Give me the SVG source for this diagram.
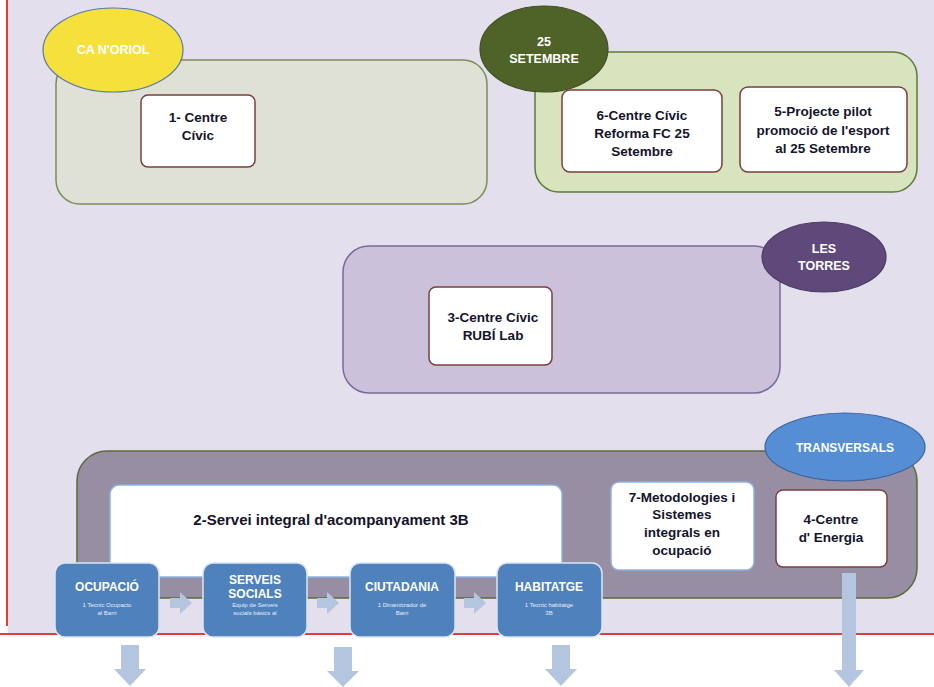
<svg xmlns="http://www.w3.org/2000/svg" width="934" height="687" viewBox="0 0 934 687">
<style>
text{font-family:"Liberation Sans",Arial,sans-serif;font-weight:bold;text-anchor:middle}
.nt{fill:#14142a;font-size:13.5px}
.lt{fill:#fff;font-size:12.5px}
.wn{fill:#fff;stroke:#7b3f3f;stroke-width:1.5}
.wb{fill:#fff;stroke:#8db3e2;stroke-width:1.5}
.bb{fill:#4f81bd;stroke:#dbe5f1;stroke-width:1.5}
.bt{fill:#fff;font-size:12px}
.st{fill:#e8eef8;font-size:6px;font-weight:normal}
.ar{fill:#b3c5df}
</style>
<rect x="0" y="0" width="934" height="687" fill="#fff"/>
<rect x="8" y="0" width="926" height="634" fill="#e4dfec"/>
<line x1="7" y1="0" x2="7" y2="626" stroke="#d9403f" stroke-width="2"/>
<line x1="0" y1="634" x2="934" y2="634" stroke="#d9403f" stroke-width="2"/>

<g id="ca-noriol">
<rect x="56" y="60" width="431" height="144" rx="24" fill="#dfe1d6" stroke="#7a8c5a" stroke-width="1.5"/>
<ellipse cx="113" cy="50" rx="70" ry="42" fill="#f6e03b" stroke="#5a7aa5" stroke-width="1.2"/>
<text class="lt" x="113" y="54">CA N'ORIOL</text>
</g>
<g id="n1">
<rect class="wn" x="141" y="95" width="114" height="72" rx="7"/>
<text class="nt" x="198" y="122">1- Centre</text>
<text class="nt" x="198" y="140">Cívic</text>
</g>

<g id="setembre">
<rect x="535" y="52" width="382" height="140" rx="24" fill="#d7e4bd" stroke="#5c7a3a" stroke-width="1.5"/>
<ellipse cx="544" cy="49" rx="64" ry="43" fill="#4f6228" stroke="#3f4f20" stroke-width="1.2"/>
<text class="lt" x="544" y="46">25</text>
<text class="lt" x="544" y="63">SETEMBRE</text>
</g>
<g id="n6">
<rect class="wn" x="562" y="90" width="160" height="82" rx="8"/>
<text class="nt" x="642" y="120">6-Centre Cívic</text>
<text class="nt" x="642" y="138">Reforma FC 25</text>
<text class="nt" x="642" y="156">Setembre</text>
</g>
<g id="n5">
<rect class="wn" x="740" y="87" width="167" height="85" rx="8"/>
<text class="nt" x="823" y="116">5-Projecte pilot</text>
<text class="nt" x="823" y="135">promoció de l'esport</text>
<text class="nt" x="823" y="153">al 25 Setembre</text>
</g>

<g id="les-torres">
<rect x="343" y="246" width="437" height="147" rx="26" fill="#ccc1da" stroke="#7a6a9a" stroke-width="1.5"/>
<ellipse cx="824" cy="257" rx="62" ry="35" fill="#5f497a" stroke="#4a3a62" stroke-width="1.2"/>
<text class="lt" x="824" y="253">LES</text>
<text class="lt" x="824" y="270">TORRES</text>
</g>
<g id="n3">
<rect class="wn" x="429" y="287" width="123" height="78" rx="7"/>
<text class="nt" x="493" y="322">3-Centre Cívic</text>
<text class="nt" x="493" y="340">RUBÍ Lab</text>
</g>

<g id="transversals">
<rect x="77" y="451" width="840" height="147" rx="30" fill="#988ea4" stroke="#5a6a3a" stroke-width="1.5"/>
<ellipse cx="845" cy="447" rx="80" ry="34" fill="#558ed5" stroke="#3b64a0" stroke-width="1.2"/>
<text class="lt" x="845" y="452" style="font-size:12px">TRANSVERSALS</text>
</g>
<g id="n2">
<rect class="wb" x="110" y="485" width="452" height="92" rx="9"/>
<text class="nt" x="331" y="525" style="font-size:15px">2-Servei integral d'acompanyament 3B</text>
</g>
<g id="n7">
<rect class="wb" x="611" y="482" width="143" height="88" rx="8"/>
<text class="nt" x="682" y="502">7-Metodologies i</text>
<text class="nt" x="682" y="519">Sistemes</text>
<text class="nt" x="682" y="537">integrals en</text>
<text class="nt" x="682" y="555">ocupació</text>
</g>
<g id="n4">
<rect class="wn" x="776" y="490" width="111" height="77" rx="7"/>
<text class="nt" x="831" y="524">4-Centre</text>
<text class="nt" x="831" y="542">d' Energia</text>
</g>

<g id="connectors">
<path class="ar" d="M170,598 h10 v-6 l12,11 l-12,11 v-6 h-10 z"/>
<path class="ar" d="M317,598 h10 v-6 l12,11 l-12,11 v-6 h-10 z"/>
<path class="ar" d="M464,598 h10 v-6 l12,11 l-12,11 v-6 h-10 z"/>
<path class="ar" d="M121,645 h18 v24 h7 l-16,17 l-16,-17 h7 z"/>
<path class="ar" d="M334,647 h18 v24 h7 l-16,16 l-16,-16 h7 z"/>
<path class="ar" d="M552,645 h18 v24 h7 l-16,17 l-16,-17 h7 z"/>
<path class="ar" d="M842,573 h14 v97 h8 l-15,17 l-15,-17 h8 z"/>
</g>

<g id="ocupacio">
<rect class="bb" x="55" y="563" width="104" height="74" rx="10"/>
<text class="bt" x="107" y="591">OCUPACIÓ</text>
<text class="st" x="107" y="607">1 Tecnic Ocupacio</text>
<text class="st" x="107" y="615">al Barri</text>
</g>
<g id="serveis">
<rect class="bb" x="203" y="563" width="104" height="74" rx="10"/>
<text class="bt" x="255" y="584">SERVEIS</text>
<text class="bt" x="255" y="598">SOCIALS</text>
<text class="st" x="255" y="607">Equip de Serveis</text>
<text class="st" x="255" y="615">socials bàsics al</text>
</g>
<g id="ciutadania">
<rect class="bb" x="350" y="563" width="105" height="74" rx="10"/>
<text class="bt" x="402" y="591">CIUTADANIA</text>
<text class="st" x="402" y="607">1 Dinamitzador  de</text>
<text class="st" x="402" y="615">Barri</text>
</g>
<g id="habitatge">
<rect class="bb" x="497" y="563" width="105" height="74" rx="10"/>
<text class="bt" x="549" y="591">HABITATGE</text>
<text class="st" x="549" y="607">1 Tecnic habitatge</text>
<text class="st" x="549" y="615">3B</text>
</g>
</svg>
